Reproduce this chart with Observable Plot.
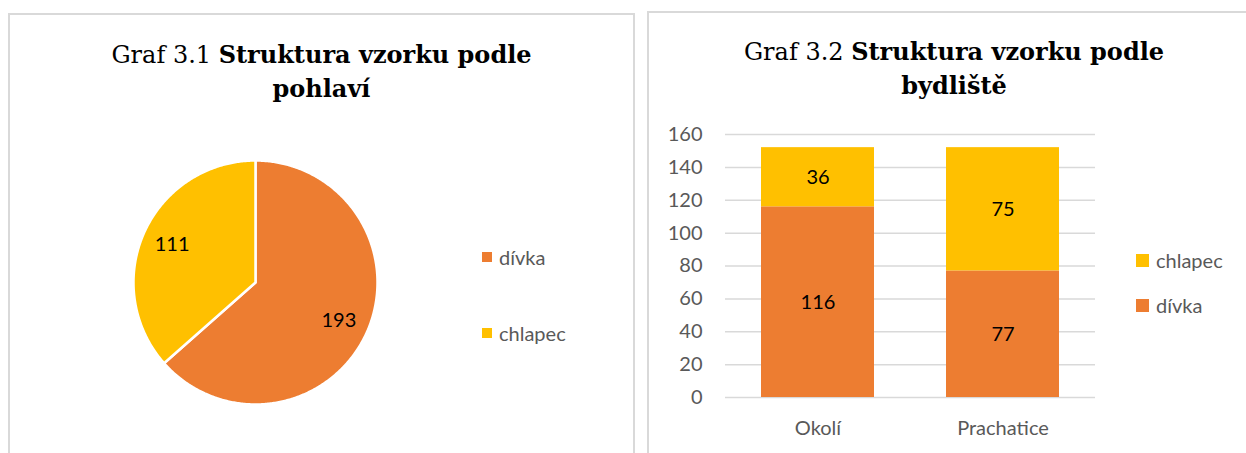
<!DOCTYPE html>
<html><head><meta charset="utf-8">
<script src="https://cdn.jsdelivr.net/npm/d3@7"></script>
<script src="https://cdn.jsdelivr.net/npm/@observablehq/plot@0.6"></script>
<style>
html,body{margin:0;padding:0;background:#fff}
body{width:1246px;height:453px;overflow:hidden;position:relative;font-family:Lato,sans-serif}
.panel{position:absolute;border:2px solid #d9d9d9;box-sizing:border-box;background:#fff}
.title{position:absolute;text-align:center;font-family:"DejaVu Serif",serif;font-size:24px;line-height:33px;color:#000;white-space:nowrap}
.chart{position:absolute}
.leg{position:absolute;font-family:Lato,sans-serif;font-size:20px;color:#595959;white-space:nowrap;line-height:20px;display:flex;align-items:center}
.leg span.sw{display:inline-block;margin-right:7px}
</style>
</head><body>
<div class="panel" style="left:8px;top:13px;width:627px;height:470px"></div>
<div class="panel" style="left:647px;top:11px;width:640px;height:470px"></div>
<div class="title" style="left:9px;width:625px;top:38px">Graf 3.1 <b>Struktura vzorku podle</b><br><b>pohlaví</b></div>
<div class="title" style="left:648px;width:612px;top:35px">Graf 3.2 <b>Struktura vzorku podle</b><br><b>bydliště</b></div>
<div id="pie" class="chart" style="left:125px;top:152px"></div>
<div id="bar" class="chart" style="left:648px;top:120px"></div>
<div id="pieLegend"></div>
<div id="barLegend"></div>
<script>
const genders = ["dívka", "chlapec"];
const genderCounts = [193, 111];
const places = ["Okolí", "Prachatice"];
const divkaByPlace = [116, 77];
const chlapecByPlace = [36, 75];
const colors = ["#ED7D31", "#FFC000"];
const yTicks = [0, 20, 40, 60, 80, 100, 120, 140, 160];

// ---- Pie (Graf 3.1) ----
const pieData = genders.map((g, i) => ({gender: g, count: genderCounts[i]}));
const arcs = d3.pie().sort(null).value(d => d.count)(pieData);
const slicePts = [];
const pieLabels = [];
for (const a of arcs) {
  slicePts.push({gender: a.data.gender, x: 0, y: 0});
  const n = Math.ceil((a.endAngle - a.startAngle) / 0.01);
  for (let k = 0; k <= n; k++) {
    const t = a.startAngle + (a.endAngle - a.startAngle) * k / n;
    slicePts.push({gender: a.data.gender, x: Math.sin(t), y: Math.cos(t)});
  }
  const m = (a.startAngle + a.endAngle) / 2;
  pieLabels.push({x: 0.75 * Math.sin(m), y: 0.75 * Math.cos(m), text: String(a.data.count)});
}
const pie = Plot.plot({
  width: 260, height: 260, margin: 8,
  x: {domain: [-1, 1], axis: null},
  y: {domain: [-1, 1], axis: null},
  color: {domain: genders, range: colors},
  style: {fontFamily: "Lato, sans-serif", background: "transparent"},
  marks: [
    Plot.line(slicePts, {x: "x", y: "y", z: "gender", fill: "gender", stroke: "white", strokeWidth: 2.5, curve: "linear-closed"}),
    Plot.text(pieLabels, {x: "x", y: "y", text: "text", fill: "#000", fontSize: 20})
  ]
});
document.getElementById("pie").append(pie);

// ---- Stacked bars (Graf 3.2) ----
const rows = [];
places.forEach((p, i) => {
  rows.push({place: p, gender: "dívka", count: divkaByPlace[i]});
  rows.push({place: p, gender: "chlapec", count: chlapecByPlace[i]});
});
const bar = Plot.plot({
  width: 598, height: 333,
  marginLeft: 77, marginRight: 151, marginTop: 14, marginBottom: 56,
  style: {fontFamily: "Lato, sans-serif", fontSize: "20px", color: "#595959", background: "transparent"},
  x: {domain: places, paddingInner: 0.39, paddingOuter: 0.195, label: null, tickSize: 0, tickPadding: 23},
  y: {domain: [0, 160], ticks: yTicks, label: null, tickSize: 0, tickPadding: 23},
  color: {domain: genders, range: colors},
  marks: [
    Plot.gridY(yTicks, {stroke: "#d9d9d9", strokeOpacity: 1, strokeWidth: 1.5}),
    Plot.barY(rows, Plot.stackY({x: "place", y: "count", z: "gender", fill: "gender"})),
    Plot.text(rows, Plot.stackY({x: "place", y: "count", z: "gender", text: "count", fill: "#000", fontSize: 20}))
  ]
});
document.getElementById("bar").append(bar);

// ---- Legends ----
function legend(containerId, items, sw, xSw, ys) {
  const c = document.getElementById(containerId);
  items.forEach((g, i) => {
    const d = document.createElement("div");
    d.className = "leg";
    d.style.left = xSw + "px";
    d.style.top = (ys[i] - 10) + "px";
    const s = document.createElement("span");
    s.className = "sw";
    s.style.width = sw + "px"; s.style.height = sw + "px";
    s.style.background = colors[genders.indexOf(g)];
    d.append(s, document.createTextNode(g));
    c.append(d);
  });
}
legend("pieLegend", ["dívka", "chlapec"], 10, 482, [257, 333]);
legend("barLegend", ["chlapec", "dívka"], 13, 1136, [260, 305]);
</script>
</body></html>
